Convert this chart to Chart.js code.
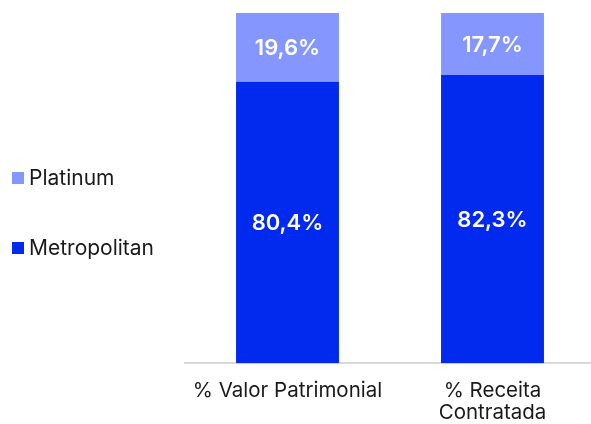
<!DOCTYPE html>
<html>
<head>
<meta charset="utf-8">
<script src="https://cdn.jsdelivr.net/npm/chart.js@4"></script>
<style>
  html, body { margin: 0; padding: 0; background: #ffffff; overflow: hidden; }
  #wrap { position: relative; width: 591px; height: 424px; overflow: hidden; }
  #legend { position: absolute; left: 12px; top: 0; font-family: Inter, sans-serif; font-size: 21px; color: #1a1a1a; }
  .item { position: absolute; white-space: nowrap; display: flex; align-items: center; }
  .box { width: 12px; height: 12px; margin-right: 5px; display: inline-block; }
  canvas { position: absolute; left: 0; top: 0; }
</style>
</head>
<body>
<div id="wrap">
  <canvas id="c" width="595" height="424"></canvas>
  <div id="legend"></div>
</div>
<script>
const categories = ['% Valor Patrimonial', ['% Receita', 'Contratada']];
const seriesNames = ['Metropolitan', 'Platinum'];
const metropolitan = [80.4, 82.3];
const platinum = [19.6, 17.7];
const colors = { Metropolitan: '#0229EE', Platinum: '#8597FE' };

const legendEl = document.getElementById('legend');
const legendTops = { Platinum: 165, Metropolitan: 235 };
['Platinum', 'Metropolitan'].forEach(name => {
  const d = document.createElement('div');
  d.className = 'item';
  d.style.top = legendTops[name] + 'px';
  d.innerHTML = '<span class="box" style="background:' + colors[name] + '"></span><span>' + name + '</span>';
  legendEl.appendChild(d);
});

const labelPlugin = {
  id: 'barLabels',
  afterDatasetsDraw(chart) {
    const ctx = chart.ctx;
    ctx.save();
    ctx.fillStyle = '#ffffff';
    ctx.font = '600 22px Inter, sans-serif';
    ctx.textAlign = 'center';
    ctx.textBaseline = 'middle';
    chart.data.datasets.forEach((ds, i) => {
      const meta = chart.getDatasetMeta(i);
      meta.data.forEach((bar, j) => {
        const v = ds.data[j];
        const y = (bar.y + bar.base) / 2 + 1;
        ctx.fillText(v.toFixed(1).replace('.', ',') + '%', bar.x, y);
      });
    });
    ctx.restore();
  }
};

new Chart(document.getElementById('c'), {
  type: 'bar',
  data: {
    labels: categories,
    datasets: [
      { label: seriesNames[0], data: metropolitan, backgroundColor: colors.Metropolitan },
      { label: seriesNames[1], data: platinum, backgroundColor: colors.Platinum }
    ]
  },
  options: {
    responsive: false,
    animation: false,
    devicePixelRatio: 1,
    layout: { padding: { left: 185, top: 13, right: 0, bottom: -17 } },
    datasets: { bar: { categoryPercentage: 1, barPercentage: 0.502 } },
    plugins: { legend: { display: false }, tooltip: { enabled: false } },
    scales: {
      x: {
        stacked: true,
        grid: { display: false, drawTicks: false },
        border: { display: true, color: '#d9d9d9', width: 2 },
        ticks: { color: '#1a1a1a', font: { family: 'Inter, sans-serif', size: 20.5, lineHeight: 1.07 }, padding: 17, maxRotation: 0 }
      },
      y: {
        stacked: true,
        display: false,
        min: 0,
        max: 100
      }
    }
  },
  plugins: [labelPlugin]
});
</script>
</body>
</html>
